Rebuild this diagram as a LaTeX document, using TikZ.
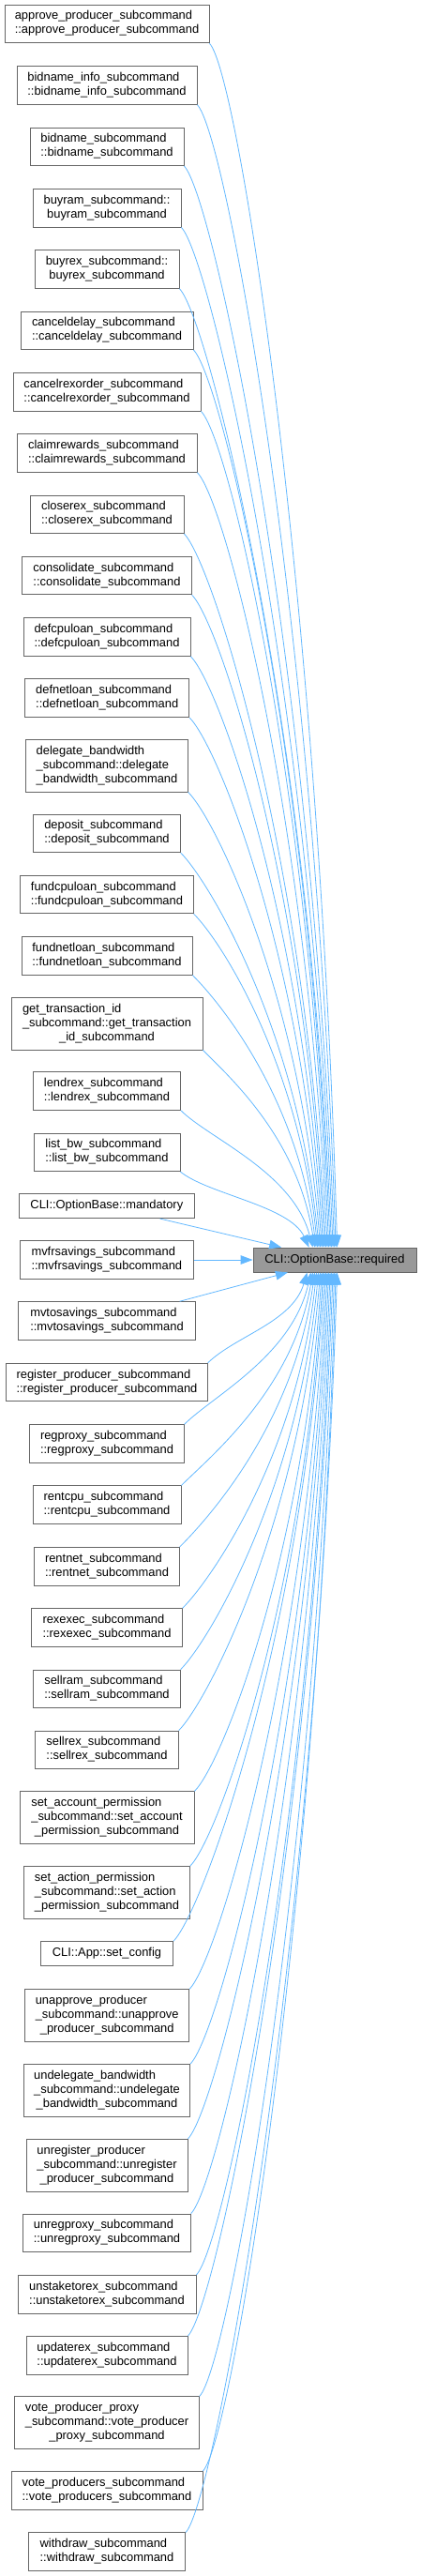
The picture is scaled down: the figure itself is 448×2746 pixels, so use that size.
\documentclass[tikz,border=0pt]{standalone}
\usepackage{fontspec}
\setmainfont{Liberation Sans}
\usetikzlibrary{arrows.meta,calc}
\definecolor{edgeblue}{HTML}{63B8FF}
\definecolor{nodegray}{HTML}{666666}
\definecolor{tgtfill}{HTML}{999999}
\newcommand\onel[1]{\begin{tabular}{@{}c@{}}#1\end{tabular}}
\newcommand\twol[2]{\begin{tabular}{@{}l@{}}#1\\\multicolumn{1}{@{}c@{}}{#2}\end{tabular}}
\newcommand\threel[3]{\begin{tabular}{@{}l@{}}#1\\#2\\\multicolumn{1}{@{}c@{}}{#3}\end{tabular}}
\newcommand\cnode[6]{\node[nb,#5,minimum width={(#3-#2)*1pt}] (#1) at ({(#2+#3)/2},#4) {#6};}
\tikzset{
  nb/.style={draw=nodegray, fill=white, line width=0.8pt, inner xsep=2pt, inner ysep=0pt},
  oneh/.style={minimum height=26pt},
  twoh/.style={minimum height=40.7pt},
  threeh/.style={minimum height=55.7pt},
  edge/.style={draw=edgeblue, line width=0.8pt, -{Triangle[length=13pt,width=9.5pt]}}
}
\begin{document}
\begin{tikzpicture}[x=1pt,y=-1pt,font=\fontsize{12.9}{15}\selectfont]
\useasboundingbox (0,0) rectangle (448,2746);
\cnode{ap}{5}{223}{25.5}{twoh}{\twol{approve\_producer\_subcommand}{::approve\_producer\_subcommand}}
\cnode{bi}{18}{210}{91}{twoh}{\twol{bidname\_info\_subcommand}{::bidname\_info\_subcommand}}
\cnode{bn}{32}{196}{156.3}{twoh}{\twol{bidname\_subcommand}{::bidname\_subcommand}}
\cnode{br}{35}{193}{221.7}{twoh}{\twol{buyram\_subcommand::}{buyram\_subcommand}}
\cnode{bx}{37}{191}{287}{twoh}{\twol{buyrex\_subcommand::}{buyrex\_subcommand}}
\cnode{cd}{22}{206}{352.3}{twoh}{\twol{canceldelay\_subcommand}{::canceldelay\_subcommand}}
\cnode{co}{14}{214}{417.7}{twoh}{\twol{cancelrexorder\_subcommand}{::cancelrexorder\_subcommand}}
\cnode{cr}{18}{210}{483}{twoh}{\twol{claimrewards\_subcommand}{::claimrewards\_subcommand}}
\cnode{cx}{32}{196}{548.3}{twoh}{\twol{closerex\_subcommand}{::closerex\_subcommand}}
\cnode{cs}{23.7}{204.3}{613.5}{twoh}{\twol{consolidate\_subcommand}{::consolidate\_subcommand}}
\cnode{dc}{25}{203}{679}{twoh}{\twol{defcpuloan\_subcommand}{::defcpuloan\_subcommand}}
\cnode{dn}{26.7}{201.7}{744.2}{twoh}{\twol{defnetloan\_subcommand}{::defnetloan\_subcommand}}
\cnode{db}{27.7}{200.3}{816.2}{threeh}{\threel{delegate\_bandwidth}{\_subcommand::delegate}{\_bandwidth\_subcommand}}
\cnode{dp}{35.7}{192.3}{888.3}{twoh}{\twol{deposit\_subcommand}{::deposit\_subcommand}}
\cnode{fc}{21.7}{206.3}{953.5}{twoh}{\twol{fundcpuloan\_subcommand}{::fundcpuloan\_subcommand}}
\cnode{fn}{23}{205}{1018.8}{twoh}{\twol{fundnetloan\_subcommand}{::fundnetloan\_subcommand}}
\cnode{gt}{12}{216}{1091.2}{threeh}{\threel{get\_transaction\_id}{\_subcommand::get\_transaction}{\_id\_subcommand}}
\cnode{lx}{35.7}{192.3}{1162.8}{twoh}{\twol{lendrex\_subcommand}{::lendrex\_subcommand}}
\cnode{lb}{36}{192}{1228.3}{twoh}{\twol{list\_bw\_subcommand}{::list\_bw\_subcommand}}
\cnode{md}{20}{207.7}{1285.7}{oneh}{\onel{CLI::OptionBase::mandatory}}
\cnode{mf}{21}{206.7}{1343}{twoh}{\twol{mvfrsavings\_subcommand}{::mvfrsavings\_subcommand}}
\node[nb,oneh,fill=tgtfill,minimum width=174pt] (T) at (357,1343) {\onel{CLI::OptionBase::required}};
\cnode{mt}{19.7}{208.3}{1408}{twoh}{\twol{mvtosavings\_subcommand}{::mvtosavings\_subcommand}}
\cnode{rp}{6.7}{221.3}{1473.5}{twoh}{\twol{register\_producer\_subcommand}{::register\_producer\_subcommand}}
\cnode{rg}{31.7}{196.3}{1539}{twoh}{\twol{regproxy\_subcommand}{::regproxy\_subcommand}}
\cnode{rc}{35}{193}{1604.2}{twoh}{\twol{rentcpu\_subcommand}{::rentcpu\_subcommand}}
\cnode{rn}{36.7}{191.3}{1669.7}{twoh}{\twol{rentnet\_subcommand}{::rentnet\_subcommand}}
\cnode{re}{33.7}{194.3}{1735}{twoh}{\twol{rexexec\_subcommand}{::rexexec\_subcommand}}
\cnode{sr}{35.7}{192.3}{1800.3}{twoh}{\twol{sellram\_subcommand}{::sellram\_subcommand}}
\cnode{sx}{37.7}{190.3}{1865.3}{twoh}{\twol{sellrex\_subcommand}{::sellrex\_subcommand}}
\cnode{sa}{21}{207}{1937.7}{threeh}{\threel{set\_account\_permission}{\_subcommand::set\_account}{\_permission\_subcommand}}
\cnode{sp}{25.7}{202.3}{2017.5}{threeh}{\threel{set\_action\_permission}{\_subcommand::set\_action}{\_permission\_subcommand}}
\cnode{sc}{43.3}{184.7}{2082.5}{oneh}{\onel{CLI::App::set\_config}}
\cnode{ua}{26.7}{201.7}{2148.5}{threeh}{\threel{unapprove\_producer}{\_subcommand::unapprove}{\_producer\_subcommand}}
\cnode{ud}{25.3}{202.7}{2228.2}{threeh}{\threel{undelegate\_bandwidth}{\_subcommand::undelegate}{\_bandwidth\_subcommand}}
\cnode{ur}{28}{200}{2308.2}{threeh}{\threel{unregister\_producer}{\_subcommand::unregister}{\_producer\_subcommand}}
\cnode{ux}{24.7}{203.3}{2380.3}{twoh}{\twol{unregproxy\_subcommand}{::unregproxy\_subcommand}}
\cnode{us}{19}{209}{2445.7}{twoh}{\twol{unstaketorex\_subcommand}{::unstaketorex\_subcommand}}
\cnode{up}{28}{200}{2510.8}{twoh}{\twol{updaterex\_subcommand}{::updaterex\_subcommand}}
\cnode{vp}{15.7}{212.3}{2582.7}{threeh}{\threel{vote\_producer\_proxy}{\_subcommand::vote\_producer}{\_proxy\_subcommand}}
\cnode{vs}{12}{216}{2654.8}{twoh}{\twol{vote\_producers\_subcommand}{::vote\_producers\_subcommand}}
\cnode{wd}{30.3}{197.7}{2720.2}{twoh}{\twol{withdraw\_subcommand}{::withdraw\_subcommand}}
% edges from callers above
\foreach \nd/\xo in {ap/90,bi/88.5,bn/87,br/85.5,bx/84,cd/82.5,co/81,cr/79.5,cx/78,cs/76.5,dc/75,dn/73.5,db/72,dp/70.5,fc/69,fn/67.5,gt/66,lx/64,lb/60}{
  \draw[edge] let \p1=(\nd.south east), \p2=($(T.north west)+(\xo,0)$),
    \n1={\x2-\x1}, \n2={\y2-\y1}, \n3={max(-30pt,0.3*\n2)} in
    (\p1) .. controls (\x1+30pt,\y1+\n3) and (\x2-0.15*\n1,\y2-0.55*\n2) .. (\p2);
}
\draw[edge] (md) -- (T);
\draw[edge] (mf) -- (T);
\draw[edge] (mt) -- (T);
% edges from callers below
\foreach \nd/\xo in {rp/58,rg/62,rc/64,rn/66,re/68,sr/70,sx/72,sa/73.5,sp/75,sc/76.5,ua/78,ud/79.5,ur/81,ux/82.5,us/84,up/85.5,vp/87,vs/88.5,wd/90}{
  \draw[edge] let \p1=(\nd.north east), \p2=($(T.south west)+(\xo,0)$),
    \n1={\x2-\x1}, \n2={\y2-\y1}, \n3={min(30pt,0.3*\n2)} in
    (\p1) .. controls (\x1+30pt,\y1+\n3) and (\x2-0.15*\n1,\y2-0.55*\n2) .. (\p2);
}
\end{tikzpicture}
\end{document}
